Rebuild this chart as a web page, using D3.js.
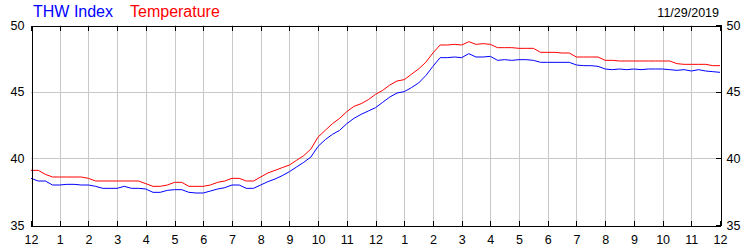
<!DOCTYPE html>
<html>
<head>
<meta charset="utf-8">
<script src="https://cdn.jsdelivr.net/npm/d3@7"></script>
<style>
  body { margin: 0; background: #fff; }
  text { font-family: "Liberation Sans", Arial, sans-serif; }
</style>
</head>
<body>
<svg id="chart" width="750" height="250"></svg>
<script>
// readings every 15 minutes from midnight to midnight
var startTime = new Date(2019, 10, 29, 0, 0);
var stepMinutes = 15;
var dateLabel = "11/29/2019";
var seriesNames = ["THW Index", "Temperature"];
var seriesColors = ["#0000ff", "#ff0000"];
var yTicks = [35, 40, 45, 50];

var temperature = [
  39.1, 39.1, 38.8, 38.6, 38.6, 38.6, 38.6, 38.6,
  38.5, 38.3, 38.3, 38.3, 38.3, 38.3, 38.3, 38.3,
  38.1, 37.9, 37.9, 38.0, 38.2, 38.2, 37.9, 37.9,
  37.9, 38.0, 38.2, 38.3, 38.5, 38.5, 38.3, 38.3,
  38.6, 38.9, 39.1, 39.3, 39.5, 39.85, 40.2, 40.7,
  41.6, 42.1, 42.6, 43.0, 43.5, 43.9, 44.1, 44.4,
  44.8, 45.1, 45.5, 45.8, 45.9, 46.3, 46.7, 47.2,
  47.9, 48.5, 48.5, 48.55, 48.5, 48.75, 48.55, 48.6,
  48.55, 48.3, 48.3, 48.3, 48.25, 48.25, 48.25, 47.95,
  47.95, 47.95, 47.9, 47.9, 47.6, 47.6, 47.6, 47.6,
  47.35, 47.35, 47.3, 47.3, 47.3, 47.3, 47.3, 47.3,
  47.3, 47.3, 47.1, 47.05, 47.05, 47.05, 47.05, 46.95,
  46.95
];

var thwIndex = [
  38.5, 38.3, 38.3, 38.0, 38.0, 38.05, 38.05, 38.0,
  38.0, 37.9, 37.75, 37.75, 37.75, 37.9, 37.75, 37.75,
  37.7, 37.45, 37.45, 37.6, 37.65, 37.65, 37.45, 37.4,
  37.4, 37.55, 37.7, 37.8, 38.0, 38.0, 37.75, 37.75,
  38.0, 38.25, 38.45, 38.7, 39.0, 39.35, 39.7, 40.1,
  40.9, 41.4, 41.8, 42.1, 42.6, 43.0, 43.3, 43.55,
  43.8, 44.2, 44.6, 44.9, 45.0, 45.3, 45.65, 46.2,
  46.9, 47.55, 47.55, 47.6, 47.55, 47.85, 47.6, 47.6,
  47.65, 47.35, 47.4, 47.35, 47.4, 47.4, 47.35, 47.2,
  47.2, 47.2, 47.2, 47.2, 47.0, 46.95, 46.95, 46.9,
  46.7, 46.65, 46.7, 46.65, 46.7, 46.65, 46.7, 46.7,
  46.7, 46.65, 46.6, 46.65, 46.55, 46.65, 46.55, 46.5,
  46.45
];

var svg = d3.select("#chart");
var plotLeft = 31, plotRight = 720, plotTop = 25, plotBottom = 225;

var endTime = d3.timeDay.offset(startTime, 1);
var x = d3.scaleTime().domain([startTime, endTime]).range([plotLeft, plotRight]);
var y = d3.scaleLinear().domain([35, 50]).range([plotBottom, plotTop]);

function toPoints(values) {
  return values.map(function(v, i) {
    return { t: d3.timeMinute.offset(startTime, i * stepMinutes), v: v };
  });
}

var hours = d3.timeHour.range(startTime, d3.timeHour.offset(endTime, 1));

// grid
var grid = svg.append("g");
grid.selectAll(".vgrid")
  .data(hours.slice(1, -1))
  .enter()
  .append("line")
  .attr("x1", function(d) { return Math.round(x(d)) + 0.5; })
  .attr("x2", function(d) { return Math.round(x(d)) + 0.5; })
  .attr("y1", plotTop)
  .attr("y2", plotBottom)
  .attr("stroke", "#c8c8c8")
  .attr("stroke-width", 1);
grid.selectAll(".hgrid")
  .data(yTicks.slice(1, -1))
  .enter()
  .append("line")
  .attr("x1", plotLeft)
  .attr("x2", plotRight)
  .attr("y1", function(d) { return Math.round(y(d)) + 0.5; })
  .attr("y2", function(d) { return Math.round(y(d)) + 0.5; })
  .attr("stroke", "#c8c8c8")
  .attr("stroke-width", 1);

// lines
var line = d3.line()
  .x(function(d) { return x(d.t); })
  .y(function(d) { return y(d.v); });

svg.append("path")
  .datum(toPoints(temperature))
  .attr("d", line)
  .attr("fill", "none")
  .attr("stroke", seriesColors[1])
  .attr("stroke-width", 1);
svg.append("path")
  .datum(toPoints(thwIndex))
  .attr("d", line)
  .attr("fill", "none")
  .attr("stroke", seriesColors[0])
  .attr("stroke-width", 1);

// axes
var fmt = d3.timeFormat("%-I");
var xBottom = d3.axisBottom(x).ticks(d3.timeHour.every(1)).tickSize(-5).tickFormat(fmt).tickPadding(10);
var xTop = d3.axisTop(x).ticks(d3.timeHour.every(1)).tickSize(-5).tickFormat("");
var yRight = d3.axisRight(y).tickValues(yTicks).tickSize(-5).tickPadding(10);
var yLeft = d3.axisLeft(y).tickValues(yTicks).tickSize(0).tickPadding(7);

var gB = svg.append("g").attr("transform", "translate(0," + (plotBottom + 0.5) + ")").call(xBottom);
var gT = svg.append("g").attr("transform", "translate(0," + (plotTop + 0.5) + ")").call(xTop);
var gR = svg.append("g").attr("transform", "translate(" + (plotRight + 0.5) + ",0)").call(yRight);
var gL = svg.append("g").attr("transform", "translate(" + (plotLeft + 0.5) + ",0)").call(yLeft);

[gB, gT, gR, gL].forEach(function(g) {
  g.select(".domain").attr("stroke", "#000").attr("shape-rendering", "crispEdges");
  g.selectAll(".tick line").attr("stroke", "#000").attr("shape-rendering", "crispEdges");
  g.selectAll("text")
    .attr("fill", "#000")
    .style("font-family", "'Liberation Sans', Arial, sans-serif")
    .style("font-size", "12.5px");
});
gR.selectAll("text").attr("x", 6);

// legend and date
svg.append("text")
  .attr("x", 33)
  .attr("y", 17)
  .attr("fill", seriesColors[0])
  .style("font-size", "16px")
  .text(seriesNames[0]);
svg.append("text")
  .attr("x", 130)
  .attr("y", 17)
  .attr("fill", seriesColors[1])
  .style("font-size", "16px")
  .text(seriesNames[1]);
svg.append("text")
  .attr("x", 719)
  .attr("y", 17)
  .attr("text-anchor", "end")
  .attr("fill", "#000")
  .style("font-size", "12.5px")
  .text(dateLabel);
</script>
</body>
</html>
